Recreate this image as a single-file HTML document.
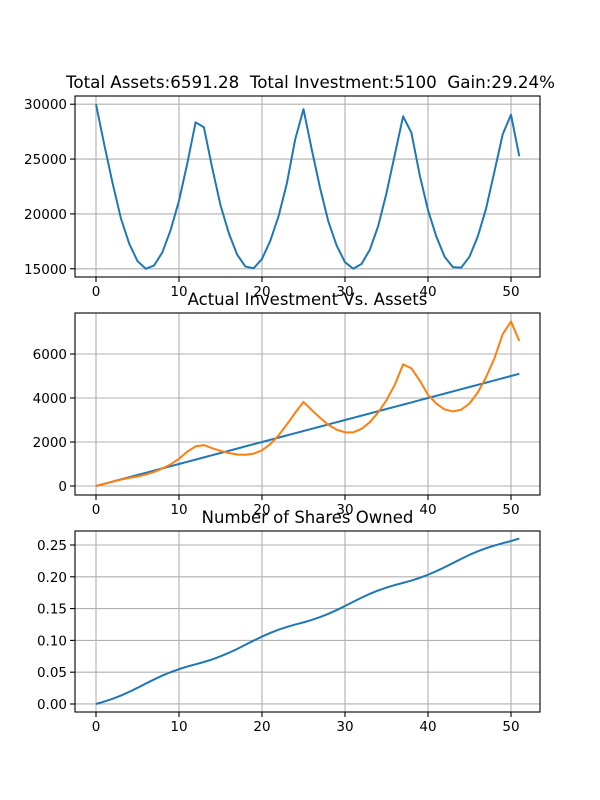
<!DOCTYPE html>
<html><head><meta charset="utf-8"><style>
html,body{margin:0;padding:0;background:#fff;}
svg{display:block;font-family:"DejaVu Sans","Liberation Sans",sans-serif;}
text{white-space:pre;}
</style></head><body>
<svg id="fig" width="600" height="800"></svg>
<script>
const xIdx = Array.from({length:52},(_,i)=>i);
const priceVals = [30000,26300,22800,19600,17300,15700,15000,15300,16500,18550,21200,24600,28350,27900,24200,20800,18250,16300,15200,15050,15900,17550,19800,22800,26800,29550,25850,22350,19300,17100,15600,15000,15450,16750,18900,21900,25400,28900,27400,23550,20350,17950,16100,15150,15100,16100,17950,20500,23850,27250,29050,25250];
const investVals = [0,100,200,300,400,500,600,700,800,900,1000,1100,1200,1300,1400,1500,1600,1700,1800,1900,2000,2100,2200,2300,2400,2500,2600,2700,2800,2900,3000,3100,3200,3300,3400,3500,3600,3700,3800,3900,4000,4100,4200,4300,4400,4500,4600,4700,4800,4900,5000,5100];
const assetVals = [0,100,200,290,370,430,520,640,800,980,1240,1560,1800,1860,1720,1600,1500,1430,1420,1470,1620,1900,2300,2800,3330,3820,3450,3100,2780,2560,2440,2440,2600,2900,3350,3900,4600,5530,5350,4800,4150,3750,3480,3390,3470,3750,4250,4950,5800,6900,7480,6591];
const shareVals = [0,.0038,.0082,.0133,.0191,.0254,.0321,.0386,.0447,.0501,.0548,.0589,.0624,.0660,.0701,.0749,.0804,.0865,.0931,.0997,.1060,.1117,.1168,.1212,.1249,.1283,.1322,.1366,.1418,.1477,.1541,.1607,.1672,.1732,.1785,.1830,.1870,.1904,.1941,.1983,.2032,.2088,.2150,.2216,.2282,.2345,.2400,.2449,.2491,.2528,.2562,.2602];
const xTicks = [0,10,20,30,40,50];
const yTicks1 = [15000,20000,25000,30000];
const yTicks2 = [0,2000,4000,6000];
const yTicks3 = [0,0.05,0.10,0.15,0.20,0.25];
const yLabels3 = ["0.00","0.05","0.10","0.15","0.20","0.25"];
const titles = ["Total Assets:6591.28  Total Investment:5100  Gain:29.24%","Actual Investment Vs. Assets","Number of Shares Owned"];

const NS="http://www.w3.org/2000/svg";
const svg=document.getElementById('fig');
function mk(tag,attrs,parent){const e=document.createElementNS(NS,tag);for(const k in attrs)e.setAttribute(k,attrs[k]);(parent||svg).appendChild(e);return e;}
const L=75,R=540;
function xs(v){return 96+(v-0)*(511-96)/50;}

function panel(idx,top,bot,ymin,ymax,ticks,labels,series,name){
  const g=mk('g',{});
  
  
  const ys=v=>bot-(v-ymin)/(ymax-ymin)*(bot-top);
  xTicks.forEach(t=>{
    const l=mk('line',{x1:xs(t),x2:xs(t),y1:top,y2:bot,stroke:'#b0b0b0','stroke-width':1.1},g);
    
    mk('line',{x1:xs(t),x2:xs(t),y1:bot,y2:bot+5,stroke:'#000','stroke-width':1.1},g);
    const tx=mk('text',{x:xs(t),y:bot+19,'text-anchor':'middle','font-size':13.5,fill:'#000'},g);
    tx.textContent=t;
    
  });
  ticks.forEach((t,i)=>{
    const l=mk('line',{x1:L,x2:R,y1:ys(t),y2:ys(t),stroke:'#b0b0b0','stroke-width':1.1},g);
    
    mk('line',{x1:L-5,x2:L,y1:ys(t),y2:ys(t),stroke:'#000','stroke-width':1.1},g);
    const tx=mk('text',{x:L-8,y:ys(t)+5,'text-anchor':'end','font-size':13.5,fill:'#000'},g);
    tx.textContent=labels?labels[i]:t;
    
  });
  series.forEach(s=>{
    const p=mk('polyline',{points:s.vals.map((v,i)=>xs(xIdx[i])+','+ys(v)).join(' '),fill:'none',stroke:s.color,'stroke-width':2,'stroke-linejoin':'round'},g);
    
  });
  const fr=mk('rect',{x:L,y:top,width:R-L,height:bot-top,fill:'none',stroke:'#000','stroke-width':1.1},g);
  
  const tt=mk('text',{x:(L+R)/2+(idx===0?3:0),y:top-8,'text-anchor':'middle','font-size':idx===0?16.7:16.5,fill:'#000'},g);
  tt.textContent=titles[idx];
  
}
panel(0,96,277,14250,30750,yTicks1,null,[{vals:priceVals,color:'#1f77b4',name:'price-line'}],'price-panel');
panel(1,313,495,-409,7864,yTicks2,null,[{vals:investVals,color:'#1f77b4',name:'investment-line'},{vals:assetVals,color:'#ff7f0e',name:'assets-line'}],'investment-panel');
panel(2,531,712,-0.0126,0.272,yTicks3,yLabels3,[{vals:shareVals,color:'#1f77b4',name:'shares-line'}],'shares-panel');
</script>
</body></html>
